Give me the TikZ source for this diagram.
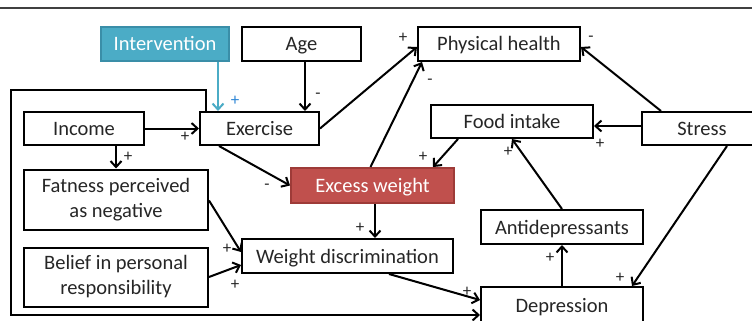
\documentclass[tikz,border=0pt]{standalone}
\usepackage{fontspec}
\setmainfont{Carlito}
\usetikzlibrary{arrows.meta}
\definecolor{intfill}{HTML}{4BACC6}
\definecolor{intdraw}{HTML}{3A8EA8}
\definecolor{ewfill}{HTML}{C0504D}
\definecolor{ewdraw}{HTML}{9E3B38}
\definecolor{plusblue}{HTML}{2E86D6}
\tikzset{
  box/.style={draw=black, line width=2pt, fill=white, inner sep=0pt, align=center,
    font=\fontsize{20.5}{25}\selectfont, text=black!85},
  one/.style={text height=16pt, text depth=2pt},
  conn/.style={line width=2pt, -{Straight Barb[length=6pt,width=11pt,line width=2pt]}},
  sign/.style={font=\fontsize{17}{20}\selectfont, text=black!85, inner sep=0pt},
}
\begin{document}
\begin{tikzpicture}[x=1pt,y=-1pt]
\useasboundingbox (0,0) rectangle (752,321);
\fill[white] (0,0) rectangle (752,321);
\draw[line width=1.5pt, black!75] (0,8) -- (752,8);
% nodes
\node[box, one, fill=intfill, draw=intdraw, text=white, minimum width=128pt, minimum height=34pt] (int) at (165,44) {Intervention};
\node[box, one, minimum width=119pt, minimum height=34pt] (age) at (301.5,44) {Age};
\node[box, one, minimum width=162pt, minimum height=34pt] (ph) at (499,44) {Physical health};
\node[box, one, minimum width=120pt, minimum height=33pt] (inc) at (84,128.5) {Income};
\node[box, one, minimum width=119pt, minimum height=33pt] (ex) at (259.5,128.5) {Exercise};
\node[box, one, minimum width=162pt, minimum height=33pt] (food) at (512,121.5) {Food intake};
\node[box, one, minimum width=120pt, minimum height=33pt] (stress) at (702,128.5) {Stress};
\node[box, one, fill=ewfill, draw=ewdraw, text=white, minimum width=163pt, minimum height=35pt] (ew) at (372.5,185.5) {Excess weight};
\node[box, minimum width=184pt, minimum height=60pt] (fat) at (116,199.5) {Fatness perceived\\as negative};
\node[box, minimum width=184pt, minimum height=59pt] (bel) at (116,277) {Belief in personal\\responsibility};
\node[box, one, minimum width=211pt, minimum height=34pt] (wd) at (347.5,256) {Weight discrimination};
\node[box, one, minimum width=162pt, minimum height=34pt] (anti) at (562,227) {Antidepressants};
\node[box, one, minimum width=162pt, minimum height=36pt] (dep) at (562,305) {Depression};
% connectors
\draw[conn, draw=intfill] (int.south -| 218,0) -- (ex.north -| 218,0);
\draw[conn] (age.south -| 305,0) -- (ex.north -| 305,0);
\draw[conn] (inc.east) -- (ex.west);
\draw[conn] (inc.south -| 116,0) -- (fat.north -| 116,0);
\draw[conn] (ex.east) -- ([yshift=-3pt]ph.west);
\draw[conn] ([xshift=20pt]ex.south west) -- (ew.west);
\draw[conn] ([xshift=-2pt]ew.north) -- ([xshift=5pt]ph.south west);
\draw[conn] (ew.south -| 375,0) -- (wd.north -| 375,0);
\draw[conn] ([xshift=28pt]food.south west) -- ([xshift=-22pt]ew.north east);
\draw[conn] (stress.west |- 0,126) -- (food.east |- 0,126);
\draw[conn] ([xshift=20pt]stress.north west) -- ([yshift=-3pt]ph.east);
\draw[conn] ([xshift=86pt]stress.south west) -- ([xshift=-12pt]dep.north east);
\draw[conn] (anti.north) -- (food.south);
\draw[conn] (dep.north) -- (anti.south);
\draw[conn] ([yshift=-1pt]fat.east) -- ([yshift=4pt]wd.west);
\draw[conn] (bel.east) -- ([yshift=-9pt]wd.west);
\draw[conn] ([xshift=148pt]wd.south west) -- ([yshift=5pt]dep.west);
\draw[conn] ([xshift=7pt]ex.north west) |- (11,90) -- (11,315) -- (dep.west |- 0,315);
% signs
\node[sign, text=plusblue] (s1) at (235,101) {+};
\node[sign] (s2) at (318,96) {-};
\node[sign] (s3) at (185,137) {+};
\node[sign] (s4) at (128,157) {+};
\node[sign] (s5) at (403,38) {+};
\node[sign] (s6) at (267,187) {-};
\node[sign] (s7) at (430,82) {-};
\node[sign] (s8) at (360,228) {+};
\node[sign] (s9) at (423,157) {+};
\node[sign] (s10) at (600,144) {+};
\node[sign] (s11) at (591,39) {-};
\node[sign] (s12) at (620,278) {+};
\node[sign] (s13) at (508,152) {+};
\node[sign] (s14) at (550,258) {+};
\node[sign] (s15) at (227,249) {+};
\node[sign] (s16) at (235,285) {+};
\node[sign] (s17) at (467,292) {+};
\end{tikzpicture}
\end{document}
